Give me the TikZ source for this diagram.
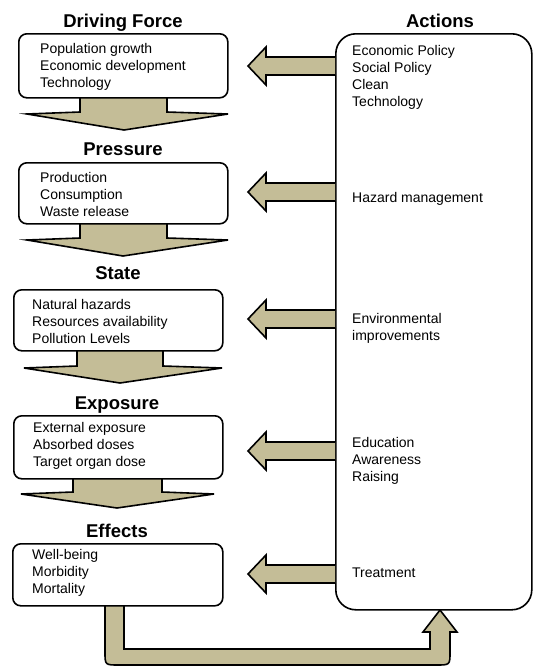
\documentclass[tikz,border=0pt]{standalone}
\usepackage{fontspec}
\setmainfont{Liberation Sans}
\definecolor{tanfill}{RGB}{196,189,151}
\begin{document}
\begin{tikzpicture}[x=1pt,y=-1pt,
  box/.style={draw=black,line width=1.6pt,fill=white,rounded corners=8pt,anchor=north west,inner sep=0pt},
  bigbox/.style={draw=black,line width=1.6pt,fill=white,rounded corners=20pt,anchor=north west,inner sep=0pt},
  arr/.style={draw=black,line width=1.6pt,fill=tanfill,line join=miter},
  ttl/.style={font=\bfseries\fontsize{18.5}{20}\selectfont,anchor=base,inner sep=0pt},
  txt/.style={font=\fontsize{14}{17.2}\selectfont,align=left,anchor=north west,inner sep=0pt}]
\useasboundingbox (0,0) rectangle (534,667);

% down arrows (drawn under the boxes)
\draw[arr] (80,95) -- (80,112) -- (27,114) -- (124,130) -- (228,114) -- (167,112) -- (167,95);
\draw[arr] (80,221) -- (80,238) -- (27,240) -- (123,256) -- (228,240) -- (167,238) -- (167,221);
\draw[arr] (77,348) -- (77,366) -- (24,368) -- (120,383) -- (222,368) -- (163,366) -- (163,348);
\draw[arr] (73,476) -- (73,492) -- (21,494) -- (117,508) -- (214,494) -- (162,492) -- (162,476);

% loop arrow
\draw[arr] (105,603) -- (105,652) .. controls (105,665) .. (119,665) -- (436,665)
  .. controls (450,665) .. (450,652) -- (450,632) -- (457,632) -- (440,610) -- (423,632)
  -- (430,632) -- (430,649) -- (124,649) -- (124,603);

% left boxes
\node[box,minimum width=209,minimum height=64] (df) at (18,33) {};
\node[box,minimum width=209,minimum height=61] (pr) at (18,162) {};
\node[box,minimum width=209,minimum height=61] (st) at (13,289) {};
\node[box,minimum width=209,minimum height=63] (ex) at (13,415) {};
\node[box,minimum width=210,minimum height=62] (ef) at (12,543) {};

% actions box
\node[bigbox,minimum width=196,minimum height=576] (ac) at (335,33) {};

% left arrows
\foreach \c in {66,192,319,451,574}{
  \draw[arr] (335,\c-9) -- (266,\c-9) -- (266,\c-19) -- (248,\c) -- (266,\c+19) -- (266,\c+9) -- (335,\c+9);
}

% titles
\node[ttl] (tdf) at (123,27) {Driving Force};
\node[ttl] (tpr) at (123,155) {Pressure};
\node[ttl] (tst) at (118,279) {State};
\node[ttl] (tex) at (117,409) {Exposure};
\node[ttl] (tef) at (117,537) {Effects};
\node[ttl] (tac) at (440,27) {Actions};

% texts
\node[txt] (xdf) at (40,43) {Population growth\\Economic development\\Technology};
\node[txt] (xpr) at (40,172) {Production\\Consumption\\Waste release};
\node[txt] (xst) at (32,299) {Natural  hazards\\Resources availability\\Pollution Levels};
\node[txt] (xex) at (33,422) {External exposure\\Absorbed doses\\Target organ dose};
\node[txt] (xef) at (32,549) {Well-being\\Morbidity\\Mortality};

\node[txt] (a1) at (352,45) {Economic Policy\\Social Policy\\Clean\\Technology};
\node[txt] (a2) at (352,192) {Hazard  management};
\node[txt] (a3) at (352,313) {Environmental\\improvements};
\node[txt] (a4) at (352,437) {Education\\Awareness\\Raising};
\node[txt] (a5) at (352,568) {Treatment};
\end{tikzpicture}
\end{document}
